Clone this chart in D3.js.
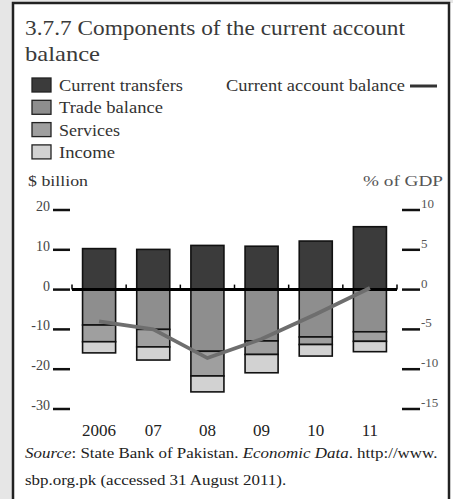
<!DOCTYPE html>
<html>
<head>
<meta charset="utf-8">
<script src="https://cdn.jsdelivr.net/npm/d3@7"></script>
<style>
  html, body { margin: 0; padding: 0; background: #fff; }
  svg { display: block; }
</style>
</head>
<body>
<script>
const years = ['2006', '07', '08', '09', '10', '11']
const currentTransfers = [10.3, 10.1, 11.1, 10.9, 12.2, 15.8]
const tradeBalance = [-8.9, -10.0, -15.5, -12.9, -11.9, -10.6]
const services = [-4.2, -4.4, -6.2, -3.4, -1.9, -2.4]
const income = [-2.8, -3.3, -4.0, -4.6, -2.9, -2.6]
const currentAccount = [-4.0, -5.0, -8.6, -6.2, -3.1, 0.2]
const leftTicks = [20, 10, 0, -10, -20, -30]
const rightTicks = [10, 5, 0, -5, -10, -15]

const width = 453
const height = 499
const serif = 'Liberation Serif, Times New Roman, serif'
const ink = '#333'

const colors = {
  transfers: '#3b3b3b',
  trade: '#8e8e8e',
  services: '#9f9f9f',
  income: '#d2d2d2'
}

const svg = d3.select('body').append('svg')
  .attr('width', width).attr('height', height)

// scanned page shadow at the left / top edge
svg.append('rect').attr('x', 0).attr('y', 0).attr('width', 13).attr('height', height).attr('fill', '#e6e6e6')
svg.append('rect').attr('x', 0).attr('y', 0).attr('width', width).attr('height', 3).attr('fill', '#e6e6e6')
svg.append('rect')
  .attr('x', 13).attr('y', 3).attr('width', 436).attr('height', 520)
  .attr('fill', '#fff').attr('stroke', '#222').attr('stroke-width', 2.5)

// the scan's serif runs wider than Liberation Serif, so fit each label to its measured width
const label = (x, y, size, txt, len, color) => {
  return svg.append('text')
    .attr('x', x).attr('y', y)
    .attr('font-family', serif).attr('font-size', size).attr('fill', color || ink)
    .attr('textLength', len).attr('lengthAdjust', 'spacingAndGlyphs')
    .text(txt)
}

// title
label(25, 35, 21.5, '3.7.7 Components of the current account', 380, '#3a3a3a')
label(25, 61, 21.5, 'balance', 75, '#3a3a3a')

// legend
const legendItems = [
  { label: 'Current transfers', color: colors.transfers, len: 124 },
  { label: 'Trade balance', color: colors.trade, len: 104 },
  { label: 'Services', color: colors.services, len: 61 },
  { label: 'Income', color: colors.income, len: 56 }
]
legendItems.forEach((d, i) => {
  const y = 78 + i * 22.3
  svg.append('rect')
    .attr('x', 32).attr('y', y).attr('width', 19).attr('height', 14)
    .attr('fill', d.color).attr('stroke', '#222').attr('stroke-width', 1.3)
  label(59, y + 13, 16.5, d.label, d.len)
})
label(226, 91, 16.5, 'Current account  balance', 179)
svg.append('line')
  .attr('x1', 410).attr('x2', 437).attr('y1', 86).attr('y2', 86)
  .attr('stroke', '#333').attr('stroke-width', 3)

// axis titles
label(28, 186, 15.5, '$ billion', 60)
label(363, 186, 15.5, '% of GDP', 80, '#555')

// scales
const x = d3.scaleBand().domain(years).range([72, 397]).paddingInner(0.39).paddingOuter(0.195)
const y = d3.scaleLinear().domain([-30, 20]).range([409, 210])
const yRight = d3.scaleLinear().domain([-15, 10]).range([409, 210])

// left ticks
const leftAxis = svg.append('g')
leftTicks.forEach(t => {
  leftAxis.append('line')
    .attr('x1', 53).attr('x2', 70).attr('y1', y(t)).attr('y2', y(t))
    .attr('stroke', '#111').attr('stroke-width', 2.5)
  leftAxis.append('text')
    .attr('x', 50).attr('y', y(t) + 1).attr('text-anchor', 'end')
    .attr('font-family', serif).attr('font-size', 14).attr('fill', '#444')
    .text(t)
})

// right ticks
const rightAxis = svg.append('g')
rightTicks.forEach(t => {
  rightAxis.append('line')
    .attr('x1', 402).attr('x2', 420).attr('y1', yRight(t)).attr('y2', yRight(t))
    .attr('stroke', '#111').attr('stroke-width', 2.5)
  rightAxis.append('text')
    .attr('x', 421).attr('y', yRight(t) - 2)
    .attr('font-family', serif).attr('font-size', 13).attr('fill', '#555')
    .text(t)
})

// stacked bars
const rows = years.map((yr, i) => ({
  year: yr,
  segments: [
    { y0: 0, y1: currentTransfers[i], color: colors.transfers },
    { y0: 0, y1: tradeBalance[i], color: colors.trade },
    { y0: tradeBalance[i], y1: tradeBalance[i] + services[i], color: colors.services },
    { y0: tradeBalance[i] + services[i], y1: tradeBalance[i] + services[i] + income[i], color: colors.income }
  ]
}))

const bars = svg.append('g')
rows.forEach(r => {
  bars.selectAll(null)
    .data(r.segments)
    .join('rect')
    .attr('x', x(r.year))
    .attr('width', x.bandwidth())
    .attr('y', d => y(Math.max(d.y0, d.y1)))
    .attr('height', d => Math.abs(y(d.y0) - y(d.y1)))
    .attr('fill', d => d.color)
    .attr('stroke', '#111').attr('stroke-width', 1.6)
})

// zero line with small category ticks
const zeroY = y(0)
svg.append('line')
  .attr('x1', 72).attr('x2', 397).attr('y1', zeroY).attr('y2', zeroY)
  .attr('stroke', '#000').attr('stroke-width', 3)
const gap = x.step() * x.paddingInner() / 2
const edges = years.map(yr => x(yr) - gap).concat([397])
svg.append('g').selectAll('line')
  .data(edges)
  .join('line')
  .attr('x1', d => d).attr('x2', d => d)
  .attr('y1', zeroY - 5).attr('y2', zeroY)
  .attr('stroke', '#000').attr('stroke-width', 1.5)

// current account balance line
const line = d3.line()
  .x((d, i) => x(years[i]) + x.bandwidth() / 2)
  .y(d => yRight(d))
svg.append('path')
  .datum(currentAccount)
  .attr('d', line)
  .attr('fill', 'none')
  .attr('stroke', '#6e6e6e').attr('stroke-width', 3.8)
  .attr('stroke-linejoin', 'miter')

// x labels
svg.append('g').selectAll('text')
  .data(years)
  .join('text')
  .attr('x', d => x(d) + x.bandwidth() / 2)
  .attr('y', 436)
  .attr('text-anchor', 'middle')
  .attr('font-family', serif).attr('font-size', 17).attr('fill', '#222')
  .text(d => d)

// source note, stretched horizontally like the scan
const note = svg.append('text')
  .attr('transform', 'translate(25,0) scale(1.13,1)')
  .attr('font-family', serif).attr('font-size', 15).attr('fill', '#222')
const l1 = note.append('tspan').attr('x', 0).attr('y', 458)
l1.append('tspan').attr('font-style', 'italic').text('Source')
l1.append('tspan').text(': State Bank of Pakistan. ')
l1.append('tspan').attr('font-style', 'italic').text('Economic Data')
l1.append('tspan').text('. http://www.')
note.append('tspan').attr('x', 0).attr('y', 485).text('sbp.org.pk (accessed 31 August 2011).')
</script>
</body>
</html>
